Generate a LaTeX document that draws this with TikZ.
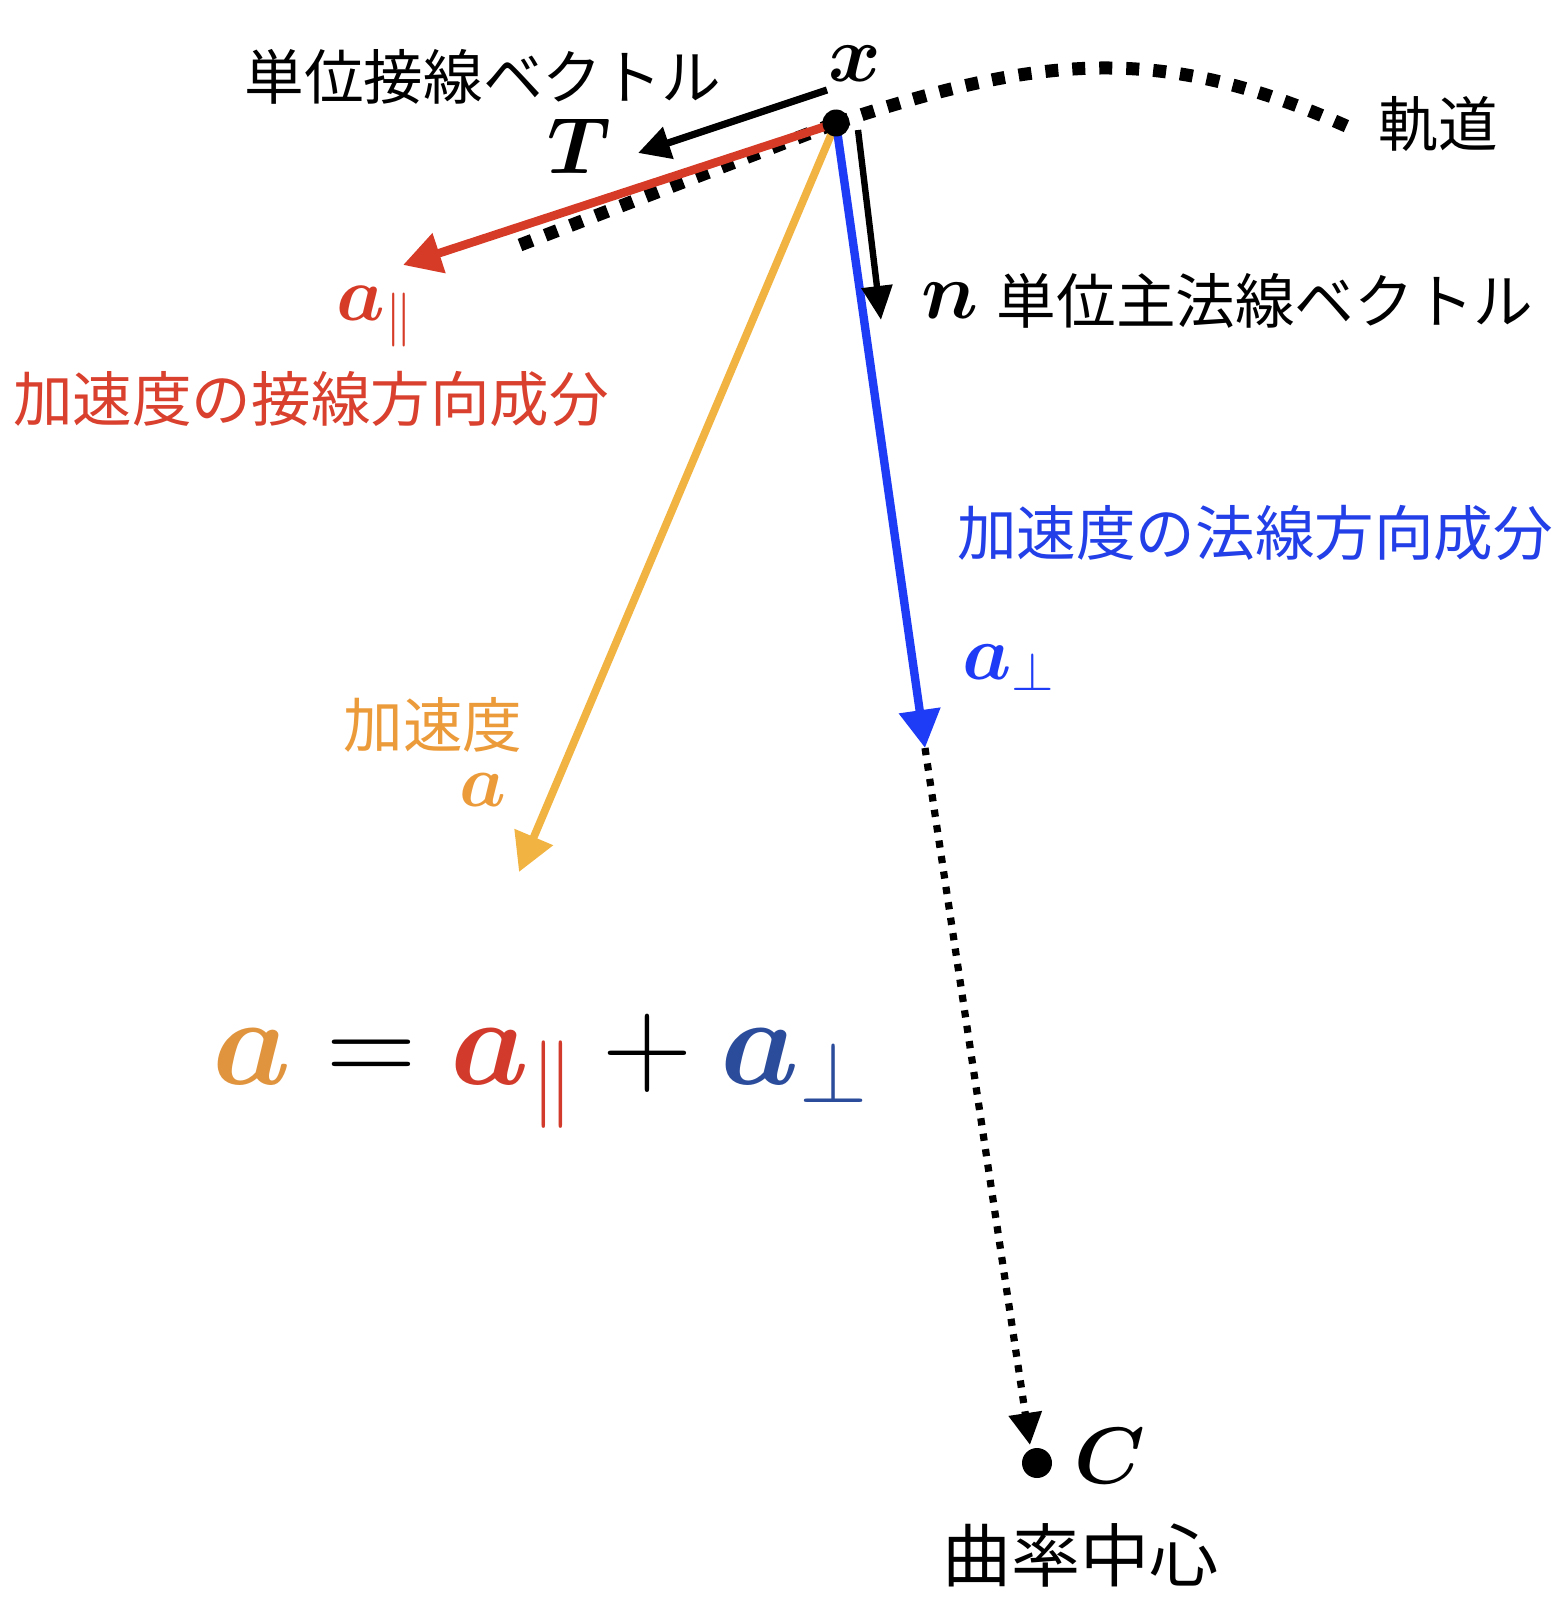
\RequirePackage{fix-cm}
\documentclass[tikz,border=0pt]{standalone}
\usepackage{amsmath,bm}
\usepackage{fontspec}
\newfontfamily\jp{Noto Sans CJK JP}
\usetikzlibrary{arrows.meta}
\definecolor{cred}{HTML}{D63B27}
\definecolor{credtxt}{HTML}{D9402E}
\definecolor{corange}{HTML}{F1B443}
\definecolor{corangetxt}{HTML}{EC9B3B}
\definecolor{cblue}{HTML}{1E3CF5}
\definecolor{cbluetxt}{HTML}{2340E8}
\definecolor{eqorange}{HTML}{E0943E}
\definecolor{eqred}{HTML}{D23B2B}
\definecolor{eqblue}{HTML}{2B4C9B}
\tikzset{
  jlab/.style={font=\jp\fontsize{29.8}{32}\selectfont, inner sep=0pt},
  mlab/.style={font=\fontsize{40}{48}\selectfont, inner sep=0pt},
  orbit/.style={line width=6.5pt, dash pattern=on 6.5pt off 7pt},
  thindot/.style={line width=3.6pt, dash pattern=on 3.6pt off 4.2pt},
  vec/.style={line width=#1},
  bigtip/.style={-{Triangle[length=19pt,width=20pt]}},
  smalltip/.style={-{Triangle[length=16pt,width=16pt]}},
  ptdot/.style={circle, fill=black, inner sep=0pt, minimum size=#1},
}
\begin{document}
\begin{tikzpicture}[x=0.5pt,y=-0.5pt]
\useasboundingbox (0,0) rectangle (1566,1600);
% key points
\coordinate (X) at (836,123);
\coordinate (Oleft) at (520,245);
\coordinate (Oright) at (1355,130);
\coordinate (Tstart) at (827,90);
\coordinate (Ttip) at (638,153);
\coordinate (Rtip) at (403,265);
\coordinate (Otip) at (519,872);
\coordinate (Btip) at (925,748);
\coordinate (Nstart) at (858,130);
\coordinate (Ntip) at (881,320);
\coordinate (Ctip) at (1030,1445);
% orbit
\draw[orbit] (Oleft) -- (X);
\draw[orbit] (X) .. controls (1042,55) and (1162,42) .. (Oright);
% vectors
\draw[vec=4.3pt, cred, bigtip] (X) -- (Rtip);
\draw[vec=3.9pt, corange, bigtip] (X) -- (Otip);
\draw[vec=4.2pt, cblue, bigtip] (X) -- (Btip);
\draw[thindot, -{Triangle[length=16pt,width=16pt]}] (Btip) -- (Ctip);
\draw[vec=3.6pt, black, smalltip] (Tstart) -- (Ttip);
\draw[vec=3.2pt, black, -{Triangle[length=17pt,width=15pt]}] (Nstart) -- (Ntip);
% points
\node[ptdot=13.5pt] (Xdot) at (X) {};
\node[ptdot=15pt] (Cdot) at (1037,1463) {};
% labels
\node[mlab, anchor=base] (xlab) at (855,82) {$\bm{x}$};
\node[mlab, anchor=base] (Tlab) at (579,173) {$\bm{T}$};
\node[mlab, anchor=base] (nlab) at (950,318) {$\bm{n}$};
\node[mlab, anchor=base] (Clab) at (1110,1483) {$\bm{C}$};
\node[mlab, anchor=base west, text=cred, font=\fontsize{38.5}{46}\selectfont] (apar) at (336,320) {$\bm{a}_{\parallel}$};
\node[mlab, anchor=base west, text=cblue, font=\fontsize{39}{46}\selectfont] (aperp) at (962,679) {$\bm{a}_{\perp}$};
\node[jlab, text=corangetxt] (acclab) at (433,725) {加速度};
\node[mlab, anchor=base, text=corangetxt, font=\fontsize{37}{44}\selectfont] (alab) at (483,806) {$\bm{a}$};
\node[jlab] (tanlab) at (483,77) {単位接線ベクトル};
\node[jlab] (orblab) at (1438,124) {軌道};
\node[jlab] (normlab) at (1265,301) {単位主法線ベクトル};
\node[jlab, text=credtxt] (tancomp) at (311,399) {加速度の接線方向成分};
\node[jlab, text=cbluetxt] (normcomp) at (1255,533) {加速度の法線方向成分};
\node[jlab, font=\jp\fontsize{34.5}{38}\selectfont] (centlab) at (1080,1555) {曲率中心};
% equation
\node[anchor=base west, inner sep=0pt, font=\fontsize{62.5}{72}\selectfont] (eq) at (212,1084)
  {$\color{eqorange}\bm{a}\color{black} = {\color{eqred}\bm{a}_{\parallel}} + {\color{eqblue}\bm{a}_{\perp}}$};
\end{tikzpicture}
\end{document}
